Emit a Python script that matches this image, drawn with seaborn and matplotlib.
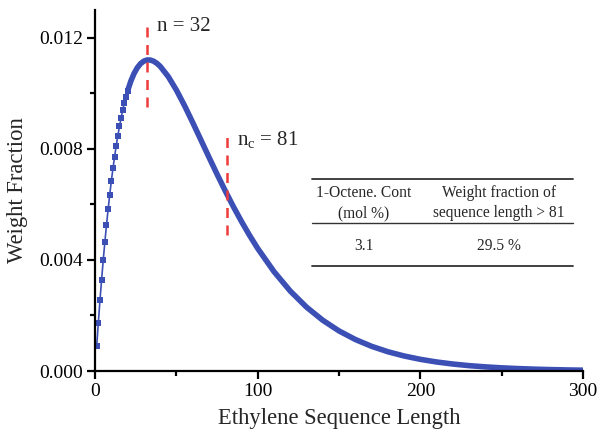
import matplotlib
matplotlib.use("Agg")
import matplotlib.pyplot as plt
from matplotlib.ticker import MultipleLocator
import pandas as pd
import seaborn as sns

# values
seq_length = [1, 2, 3, 4, 5, 6, 7, 8, 9, 10, 11, 12, 13, 14, 15, 16, 17, 18, 19, 20,
              22, 24, 26, 28, 30, 32, 34, 36, 38, 40,
              45, 50, 55, 60, 65, 70, 75, 80, 85, 90, 95, 100,
              110, 120, 130, 140, 150, 160, 170, 180, 190, 200,
              210, 220, 230, 240, 250, 260, 270, 280, 290, 300]
weight_frac = [0.000900, 0.001746, 0.002540, 0.003286, 0.003984, 0.004637, 0.005248,
               0.005817, 0.006348, 0.006842, 0.007300, 0.007725, 0.008118, 0.008480,
               0.008813, 0.009119, 0.009398, 0.009652, 0.009883, 0.010091,
               0.010444, 0.010720, 0.010927, 0.011072, 0.011162, 0.011203, 0.011199,
               0.011157, 0.011081, 0.010975,
               0.010603, 0.010117, 0.009557, 0.008952, 0.008329, 0.007702, 0.007087,
               0.006492, 0.005923, 0.005386, 0.004882, 0.004413,
               0.003579, 0.002879, 0.002300, 0.001827, 0.001443, 0.001135, 0.000889,
               0.000694, 0.000541, 0.000420,
               0.000325, 0.000251, 0.000193, 0.000149, 0.000114, 0.0000877, 0.0000671,
               0.0000514, 0.0000392, 0.0000299]

# marker lines
peak_n = 32
crit_n = 81
peak_span = (0.0095, 0.0124)
crit_span = (0.0049, 0.00846)

# inset table
table_header = [["1-Octene. Cont", "(mol %)"], ["Weight fraction of", "sequence length > 81"]]
table_row = ["3.1", "29.5 %"]

BLUE = "#3B4FB5"
RED = "#EE3B3B"

sns.set_style("ticks")
plt.rcParams.update({
    "font.family": ["Liberation Serif", "DejaVu Serif"],
    "mathtext.fontset": "custom",
    "mathtext.rm": "Liberation Serif",
    "mathtext.it": "Liberation Serif",
    "axes.linewidth": 1.6,
    "xtick.major.width": 1.6,
    "ytick.major.width": 1.6,
    "xtick.minor.width": 1.6,
    "ytick.minor.width": 1.6,
    "xtick.major.size": 5.5,
    "ytick.major.size": 5.5,
    "xtick.minor.size": 3.5,
    "ytick.minor.size": 3.5,
    "xtick.direction": "out",
    "ytick.direction": "out",
    "axes.edgecolor": "black",
    "xtick.color": "black",
    "ytick.color": "black",
})

df = pd.DataFrame({"n": seq_length, "w": weight_frac})
head = df[df["n"] <= 20]
tail = df[df["n"] >= 20]

fig = plt.figure(figsize=(5.98, 4.37), dpi=100)
ax = fig.add_axes([0.159, 0.151, 0.816, 0.826])

sns.lineplot(data=head, x="n", y="w", ax=ax, color=BLUE, linewidth=1.2,
             marker="s", markersize=4, markeredgewidth=0, markerfacecolor=BLUE)
sns.lineplot(data=tail, x="n", y="w", ax=ax, color=BLUE, linewidth=4.0,
             solid_capstyle="butt")

ax.vlines(peak_n, *peak_span, colors=RED, linestyles=(0, (4, 3)), linewidth=1.8)
ax.vlines(crit_n, *crit_span, colors=RED, linestyles=(0, (4, 3)), linewidth=1.8)
ax.text(peak_n + 6, 0.0124, "n = 32", fontsize=15, ha="left", va="center")
ax.text(crit_n + 6, 0.00834, r"n$_\mathrm{c}$ = 81", fontsize=15, ha="left", va="center")

ax.set_xlim(0, 300)
ax.set_ylim(0, 0.013)
ax.xaxis.set_major_locator(MultipleLocator(100))
ax.xaxis.set_minor_locator(MultipleLocator(50))
ax.yaxis.set_minor_locator(MultipleLocator(0.002))
ax.set_yticks([0, 0.004, 0.008, 0.012])
ax.set_yticklabels(["0.000", "0.004", "0.008", "0.012"])
ax.tick_params(labelsize=14, pad=3)
ax.set_xlabel("Ethylene Sequence Length", fontsize=16.3, labelpad=6)
ax.set_ylabel("Weight Fraction", fontsize=16.3, labelpad=8)
sns.despine(ax=ax)

# inset table (figure coordinates)
x_left, x_right = 311.7 / 598, 573 / 598
for yy, lw in [(1 - 179.3 / 437, 1.3), (1 - 222.7 / 437, 1.0), (1 - 266 / 437, 1.3)]:
    fig.add_artist(plt.Line2D([x_left, x_right], [yy, yy],
                              color="#333333", linewidth=lw))
col_x = [364 / 598, 499 / 598]
for cx, (l1, l2), val in zip(col_x, table_header, table_row):
    fig.text(cx, 1 - 193 / 437, l1, fontsize=11.2, ha="center", va="center")
    fig.text(cx, 1 - 213 / 437, l2, fontsize=11.2, ha="center", va="center")
    fig.text(cx, 1 - 246.5 / 437, val, fontsize=11.2, ha="center", va="center")

fig.savefig("out.png", dpi=100)
